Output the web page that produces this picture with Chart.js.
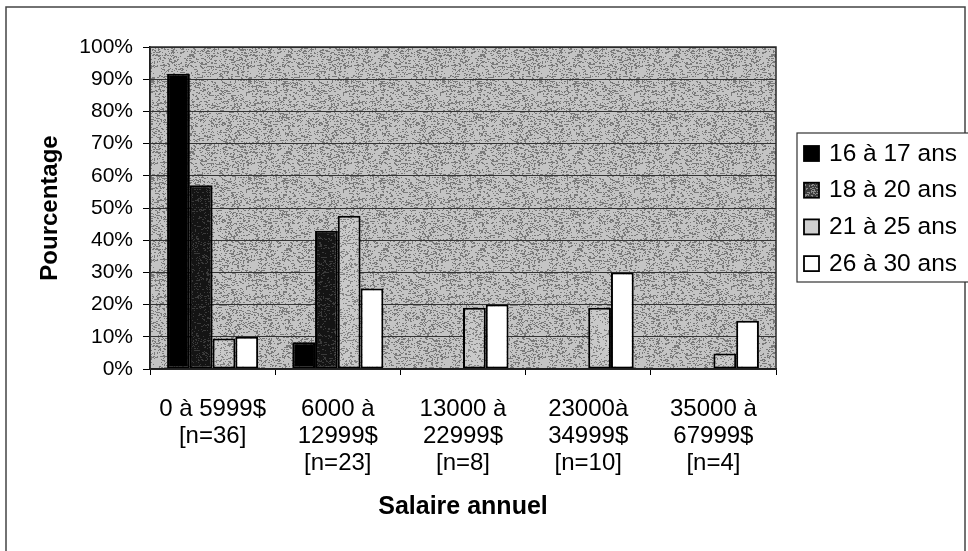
<!DOCTYPE html>
<html>
<head>
<meta charset="utf-8">
<script src="https://cdn.jsdelivr.net/npm/chart.js@4.4.1/dist/chart.umd.min.js"></script>
<style>
  html, body { margin: 0; padding: 0; background: #fff; }
  #wrap { width: 968px; height: 551px; }
</style>
</head>
<body>
<div id="wrap"><canvas id="salaryChart" width="968" height="551"></canvas></div>
<script>
// categories (salary ranges) and age groups
const categories = [
  ['0 à 5999$', '[n=36]'],
  ['6000 à', '12999$', '[n=23]'],
  ['13000 à', '22999$', '[n=8]'],
  ['23000à', '34999$', '[n=10]'],
  ['35000 à', '67999$', '[n=4]']
];
const ageGroups = ['16 à 17 ans', '18 à 20 ans', '21 à 25 ans', '26 à 30 ans'];

// percentages
const age16to17 = [91.7, 8.3, 0, 0, 0];
const age18to20 = [57.1, 42.9, 0, 0, 0];
const age21to25 = [9.5, 47.6, 19, 19, 4.8];
const age26to30 = [10, 25, 20, 30, 15];

const yTicks = [0, 10, 20, 30, 40, 50, 60, 70, 80, 90, 100];

const FONT = '"Liberation Sans", Arial, sans-serif';

// speckled texture like the scanned excel fill
function speckle(base, dot, density, seed) {
  const c = document.createElement('canvas');
  c.width = c.height = 97;
  const g = c.getContext('2d');
  g.fillStyle = base;
  g.fillRect(0, 0, 97, 97);
  let s = seed;
  const rnd = () => (s = (s * 16807) % 2147483647) / 2147483647;
  g.fillStyle = dot;
  for (let i = 0; i < 97 * 97 * density; i++) {
    g.fillRect(Math.floor(rnd() * 97), Math.floor(rnd() * 97), rnd() < 0.35 ? 2 : 1, 1);
  }
  return g.createPattern(c, 'repeat');
}

const plotFill = speckle('#c4c4c4', '#7a7a7a', 0.24, 12345);
const barGrey = speckle('#c9c9c9', '#858585', 0.2, 777);
const barDark = speckle('#141414', '#3a3a3a', 0.15, 4242);
const legendDark = speckle('#3c3c3c', '#8a8a8a', 0.3, 99);

const fills = ['#000000', barDark, barGrey, '#ffffff'];
const legendFills = ['#000000', legendDark, '#cfcfcf', '#ffffff'];

// draws plot background, frame and the boxed legend
const decorPlugin = {
  id: 'decor',
  beforeDraw(chart) {
    const {ctx, chartArea: a} = chart;
    ctx.save();
    ctx.fillStyle = '#fff';
    ctx.fillRect(0, 0, chart.width, chart.height);
    ctx.fillStyle = plotFill;
    ctx.fillRect(a.left, a.top, a.right - a.left, a.bottom - a.top);
    ctx.restore();
  },
  afterDraw(chart) {
    const {ctx, chartArea: a} = chart;
    ctx.save();
    // plot border
    ctx.strokeStyle = '#2a2a2a';
    ctx.lineWidth = 1.5;
    ctx.strokeRect(a.left, a.top, a.right - a.left, a.bottom - a.top);
    // outer frame
    ctx.strokeStyle = '#444';
    ctx.lineWidth = 1.5;
    ctx.strokeRect(6, 7, 959, 560);

    // legend
    const lx = 797, ly = 133, lw = 180, lh = 149;
    ctx.fillStyle = '#fff';
    ctx.fillRect(lx, ly, lw, lh);
    ctx.strokeStyle = '#333';
    ctx.lineWidth = 1.2;
    ctx.strokeRect(lx, ly, lw, lh);
    ctx.font = '24.5px ' + FONT;
    ctx.textBaseline = 'middle';
    ageGroups.forEach((name, i) => {
      const y = ly + 20 + i * 36.7;
      ctx.fillStyle = legendFills[i];
      ctx.fillRect(lx + 7, y - 7, 15, 15);
      ctx.strokeStyle = '#000';
      ctx.lineWidth = 1.8;
      ctx.strokeRect(lx + 7, y - 7, 15, 15);
      ctx.fillStyle = '#000';
      ctx.fillText(name, lx + 32, y + 1);
    });
    ctx.restore();
  }
};

const seriesValues = [age16to17, age18to20, age21to25, age26to30];

const data = {
  labels: categories,
  datasets: ageGroups.map((name, i) => ({
    label: name,
    data: seriesValues[i],
    backgroundColor: fills[i],
    borderColor: '#000',
    borderWidth: 2,
    borderSkipped: false,
    categoryPercentage: 4 / 5.5,
    barPercentage: 1
  }))
};

new Chart(document.getElementById('salaryChart'), {
  type: 'bar',
  data: data,
  options: {
    responsive: false,
    animation: false,
    events: [],
    layout: { padding: { left: 0, top: 47, right: 192, bottom: 0 } },
    plugins: {
      legend: { display: false },
      tooltip: { enabled: false }
    },
    scales: {
      x: {
        afterFit(scale) { scale.height = 551 - 369; },
        grid: { display: true, drawOnChartArea: false, offset: true, color: '#000', tickLength: 6, lineWidth: 1 },
        border: { color: '#000', width: 1.5 },
        ticks: { color: '#000', font: { family: FONT, size: 24, lineHeight: '27px' }, padding: 21, maxRotation: 0, autoSkip: false },
        title: {
          display: true,
          text: 'Salaire annuel',
          color: '#000',
          font: { family: FONT, size: 25, weight: 'bold', lineHeight: 1.2 },
          padding: { top: 0, bottom: 29 }
        }
      },
      y: {
        min: 0,
        max: 100,
        afterFit(scale) { scale.width = 150; },
        afterBuildTicks(scale) { scale.ticks = yTicks.map(v => ({ value: v })); },
        grid: { color: '#333', lineWidth: 1, tickLength: 7, tickColor: '#000' },
        border: { color: '#000', width: 1.5 },
        ticks: { color: '#000', font: { family: FONT, size: 21 }, padding: 10, callback: v => v + '%' },
        title: {
          display: true,
          text: 'Pourcentage',
          color: '#000',
          font: { family: FONT, size: 24, weight: 'bold', lineHeight: 1.2 },
          padding: { top: 36, bottom: 0 }
        }
      }
    }
  },
  plugins: [decorPlugin]
});
</script>
</body>
</html>
